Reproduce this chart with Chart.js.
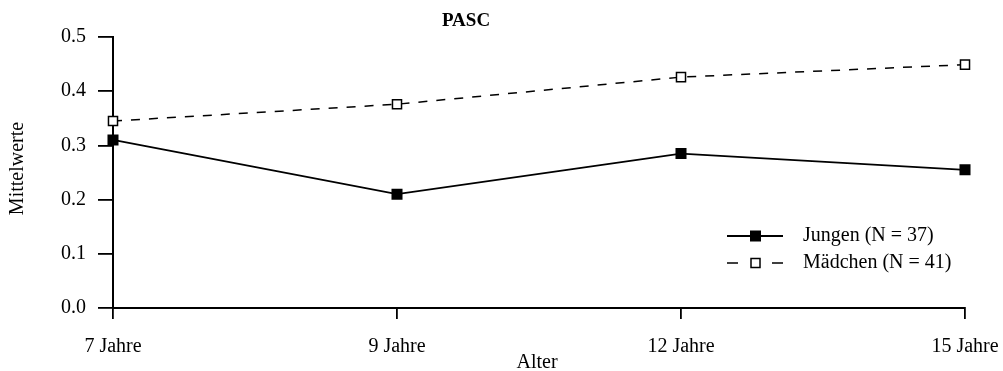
<!DOCTYPE html>
<html lang="de">
<head>
<meta charset="UTF-8">
<title>PASC</title>
<script src="https://cdn.jsdelivr.net/npm/chart.js"></script>
<style>
  html, body { margin: 0; padding: 0; background: #fff; }
  #wrap { width: 1003px; height: 371px; }
</style>
</head>
<body>
<div id="wrap"><canvas id="pasc"></canvas></div>
<script>
// Altersstufen und Mittelwerte
const ageLabels = ['7 Jahre', '9 Jahre', '12 Jahre', '15 Jahre'];
const jungen = [0.31, 0.21, 0.285, 0.255];
const maedchen = [0.345, 0.376, 0.426, 0.449];
const seriesNames = ['Jungen (N = 37)', 'Mädchen (N = 41)'];

const serif = '"Liberation Serif", "Times New Roman", serif';

// title, axis titles and the little legend box
const extras = {
  id: 'extras',
  afterDraw(chart) {
    const { ctx, chartArea } = chart;
    ctx.save();
    ctx.fillStyle = '#000';
    ctx.textAlign = 'center';
    ctx.textBaseline = 'middle';
    ctx.font = 'bold 19px ' + serif;
    ctx.fillText('PASC', 466, 21);

    ctx.font = '20px ' + serif;
    ctx.fillText('Alter', (chartArea.left + chartArea.right) / 2 - 2, 363);

    ctx.save();
    ctx.translate(18, (chartArea.top + chartArea.bottom) / 2 - 4);
    ctx.rotate(-Math.PI / 2);
    ctx.fillText('Mittelwerte', 0, 0);
    ctx.restore();

    // legend
    const lx = 727, rows = [236, 263];
    ctx.lineWidth = 1.8;
    ctx.strokeStyle = '#000';
    ctx.beginPath();
    ctx.moveTo(lx, rows[0]);
    ctx.lineTo(lx + 56, rows[0]);
    ctx.stroke();
    ctx.fillRect(lx + 23, rows[0] - 5.5, 11, 11);

    ctx.lineWidth = 1.5;
    ctx.beginPath();
    ctx.moveTo(lx, rows[1]); ctx.lineTo(lx + 11, rows[1]);
    ctx.moveTo(lx + 45, rows[1]); ctx.lineTo(lx + 56, rows[1]);
    ctx.stroke();
    ctx.fillStyle = '#fff';
    ctx.fillRect(lx + 24, rows[1] - 4.5, 9, 9);
    ctx.strokeRect(lx + 24, rows[1] - 4.5, 9, 9);

    ctx.fillStyle = '#000';
    ctx.textAlign = 'left';
    ctx.font = '20px ' + serif;
    ctx.fillText(seriesNames[0], 803, rows[0]);
    ctx.fillText(seriesNames[1], 803, rows[1]);
    ctx.restore();
  }
};

new Chart(document.getElementById('pasc'), {
  type: 'line',
  data: {
    labels: ageLabels,
    datasets: [
      {
        label: seriesNames[0],
        data: jungen,
        borderColor: '#000',
        borderWidth: 1.8,
        backgroundColor: '#000',
        pointStyle: 'rect',
        pointRadius: 7.8,
        pointBorderWidth: 0,
        tension: 0
      },
      {
        label: seriesNames[1],
        data: maedchen,
        borderColor: '#000',
        borderWidth: 1.5,
        borderDash: [9, 9],
        backgroundColor: '#fff',
        pointStyle: 'rect',
        pointRadius: 6.4,
        pointBorderWidth: 1.5,
        tension: 0
      }
    ]
  },
  options: {
    responsive: true,
    maintainAspectRatio: false,
    animation: false,
    layout: { padding: { left: 0, right: 38, top: 37, bottom: 0 } },
    plugins: {
      legend: { display: false },
      tooltip: { enabled: false }
    },
    scales: {
      x: {
        type: 'category',
        offset: false,
        afterFit(scale) {
          scale.height = 63;
          // end labels may hang over the plot edges
          scale.paddingLeft = 0;
          scale.paddingRight = 0;
        },
        border: { color: '#000', width: 2 },
        grid: { drawOnChartArea: false, drawTicks: true, tickLength: 11, color: '#000', lineWidth: 1.8 },
        ticks: {
          color: '#000',
          font: { family: serif, size: 20 },
          padding: 16,
          autoSkip: false,
          maxRotation: 0
        }
      },
      y: {
        min: 0,
        max: 0.5,
        afterFit(scale) { scale.width = 113; },
        border: { color: '#000', width: 2 },
        grid: { drawOnChartArea: false, drawTicks: true, tickLength: 15, color: '#000', lineWidth: 1.8 },
        ticks: {
          stepSize: 0.1,
          color: '#000',
          font: { family: serif, size: 20 },
          padding: 12,
          callback: v => v.toFixed(1)
        }
      }
    }
  },
  plugins: [extras]
});
</script>
</body>
</html>
